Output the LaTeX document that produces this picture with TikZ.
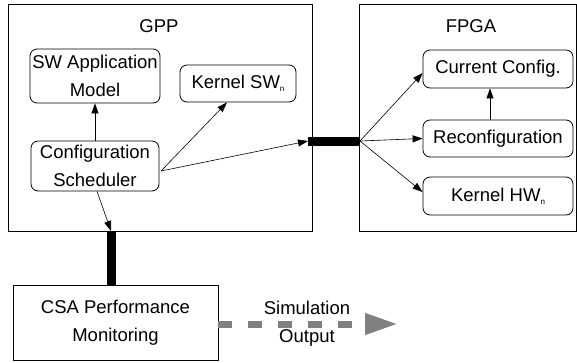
\documentclass[tikz,border=0pt]{standalone}
\usepackage{fontspec}
\setmainfont{Liberation Sans}
\usetikzlibrary{arrows.meta}
\definecolor{simgray}{RGB}{128,128,128}
\newcommand{\subn}{\raisebox{-3pt}{\fontsize{8}{8}\selectfont n}}
\begin{document}
\begin{tikzpicture}[x=1pt,y=-1pt,
  every node/.style={font=\fontsize{18.5}{28}\selectfont, inner sep=0pt, align=center},
  rbox/.style={draw, line width=0.8pt, rounded corners=7pt},
  sbox/.style={draw, line width=0.8pt},
  arr/.style={line width=0.6pt, -{Triangle[length=10pt,width=7pt]}},
  bus/.style={line width=9pt},
  sim/.style={simgray, line width=7pt, dash pattern=on 14pt off 16pt, -{Triangle[length=33pt,width=20pt]}}]
\useasboundingbox (0,0) rectangle (577,362);
% containers
\node[sbox, minimum width=304pt, minimum height=227pt] (gpp) at (160,117.5) {};
\node (gpplbl) at (159,26) {GPP};
\node[sbox, minimum width=217pt, minimum height=227pt] (fpga) at (467.5,117.5) {};
\node (fpgalbl) at (471,26) {FPGA};
% GPP nodes
\node[rbox, minimum width=130pt, minimum height=54pt] (swapp) at (95,76) {SW Application\\Model};
\node[rbox, minimum width=116pt, minimum height=37pt] (ksw) at (238,83.5) {Kernel SW\subn};
\node[rbox, minimum width=128pt, minimum height=50pt] (cs) at (95,166) {Configuration\\Scheduler};
% FPGA nodes
\node[rbox, minimum width=150pt, minimum height=38pt] (cc) at (498,69) {Current Config.};
\node[rbox, minimum width=150pt, minimum height=37pt] (rc) at (498,138.5) {Reconfiguration};
\node[rbox, minimum width=150pt, minimum height=38pt] (khw) at (498,196) {Kernel HW\subn};
% CSA
\node[sbox, minimum width=205pt, minimum height=75pt] (csa) at (115.5,322.5) {CSA Performance\\Monitoring};
% connectors
\coordinate (csout) at (161,171);
\coordinate (barL) at (308,141);
\coordinate (barR) at (360,141);
\coordinate (vbT) at (111,231);
\coordinate (simend) at (398,324);
\draw[arr] (cs.north) -- (swapp.south);
\draw[arr] (csout) -- ([xshift=-11pt]ksw.south);
\draw[arr] (csout) -- (barL);
\draw[bus] (barL) -- (barR);
\draw[arr] (barR) -- ([yshift=-4pt]cc.west);
\draw[arr] (barR) -- (rc.west);
\draw[arr] (barR) -- ([yshift=4pt]khw.west);
\draw[arr] ([xshift=-8pt]rc.north) -- ([xshift=-8pt]cc.south);
\draw[arr] ([xshift=2pt]cs.south) -- (vbT);
\draw[bus] (vbT) -- ([xshift=-4.5pt]csa.north);
\draw[sim] ([yshift=-1.5pt]csa.east) -- (simend);
\node (simlbl) at (307,324) {Simulation\\Output};
\end{tikzpicture}
\end{document}
